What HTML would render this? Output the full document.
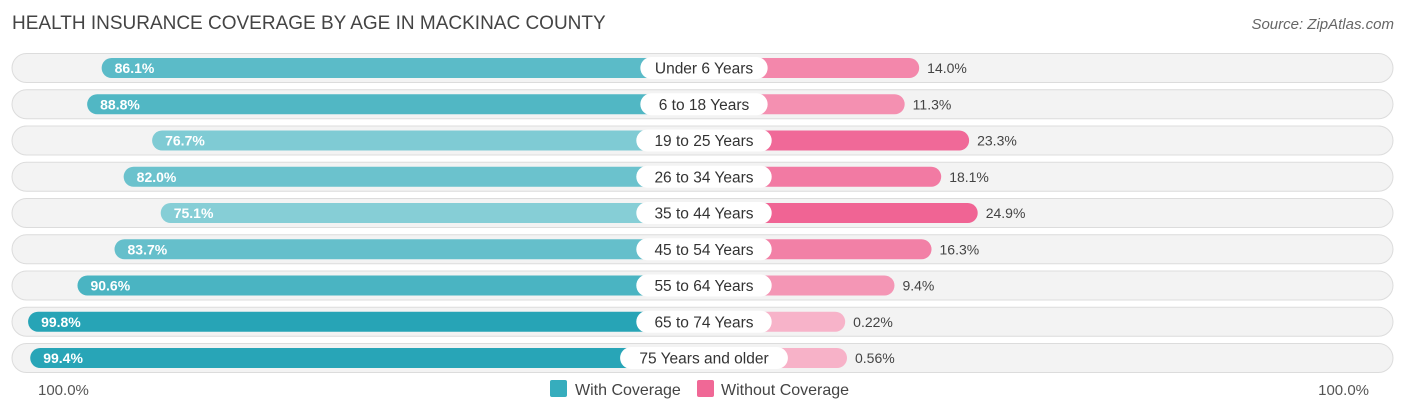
<!DOCTYPE html>
<html><head><meta charset="utf-8"><style>
body{margin:0;background:#fff;font-family:"Liberation Sans",sans-serif;}
svg text{font-family:"Liberation Sans",sans-serif;}
</style></head><body>
<svg id="chart" width="1406" height="414">
<text x="12" y="29" font-size="19" fill="#444">HEALTH INSURANCE COVERAGE BY AGE IN MACKINAC COUNTY</text>
<text x="1394" y="29" font-size="15" fill="#666" font-style="italic" text-anchor="end">Source: ZipAtlas.com</text>
<g id="rows"></g>
<text x="38" y="395" font-size="15" fill="#555">100.0%</text>
<text x="1369" y="395" font-size="15" fill="#555" text-anchor="end">100.0%</text>
<rect x="550" y="380" width="17" height="17" rx="2" fill="#36adbd"/>
<text x="575" y="395" font-size="16" fill="#444">With Coverage</text>
<rect x="697" y="380" width="17" height="17" rx="2" fill="#f06896"/>
<text x="721" y="395" font-size="16" fill="#444">Without Coverage</text>
</svg>
<script>
const categories=["Under 6 Years","6 to 18 Years","19 to 25 Years","26 to 34 Years","35 to 44 Years","45 to 54 Years","55 to 64 Years","65 to 74 Years","75 Years and older"];
const withCoverage=[86.1,88.8,76.7,82.0,75.1,83.7,90.6,99.8,99.4];
const withoutCoverage=[14.0,11.3,23.3,18.1,24.9,16.3,9.4,0.22,0.56];
const withLabels=["86.1%","88.8%","76.7%","82.0%","75.1%","83.7%","90.6%","99.8%","99.4%"];
const withoutLabels=["14.0%","11.3%","23.3%","18.1%","24.9%","16.3%","9.4%","0.22%","0.56%"];
const NS="http://www.w3.org/2000/svg";
const g=document.getElementById('rows');
const cx=704,off=140,scale=5.37;
function xl(v){return cx-off-v*scale;}
function xr(v){return cx+off+v*scale;}
function yRow(i){return 68+i*36.25;}
function mix(a,b,t){return 'rgb('+a.map((c,k)=>Math.round(c+(b[k]-c)*t)).join(',')+')';}
function mk(tag,attrs){const e=document.createElementNS(NS,tag);for(const k in attrs)e.setAttribute(k,attrs[k]);g.appendChild(e);return e;}
categories.forEach((c,i)=>{
 const y=yRow(i);
 const bg=mk('rect',{x:12,y:y-14.5,width:1381,height:29,rx:14.5,fill:'#f3f3f3',stroke:'#dcdcdc'});
 
 
 const t1=Math.min(1,Math.max(0,(withCoverage[i]-75)/25));
 const lb=mk('rect',{x:xl(withCoverage[i]),y:y-10,width:cx-xl(withCoverage[i]),height:20,rx:10,fill:mix([134,206,214],[38,164,182],t1)});
 
 
 const t2=Math.min(1,Math.max(0,withoutCoverage[i]/25));
 const rb=mk('rect',{x:cx,y:y-10,width:xr(withoutCoverage[i])-cx,height:20,rx:10,fill:mix([247,180,201],[240,100,148],t2)});
 
 
 const tw=c.length*8.1+22;
 const pill=mk('rect',{x:cx-tw/2,y:y-11,width:tw,height:22,rx:11,fill:'#fff'});
 
 
 const ct=mk('text',{x:cx,y:y+5.5,'font-size':15.5,fill:'#333','text-anchor':'middle'});ct.textContent=c;
 
 
 const wt=mk('text',{x:xl(withCoverage[i])+13,y:y+5,'font-size':14,fill:'#fff','font-weight':'bold'});wt.textContent=withLabels[i];
 
 
 const ot=mk('text',{x:xr(withoutCoverage[i])+8,y:y+5,'font-size':14,fill:'#444'});ot.textContent=withoutLabels[i];
 
 
});
</script>
</body></html>
